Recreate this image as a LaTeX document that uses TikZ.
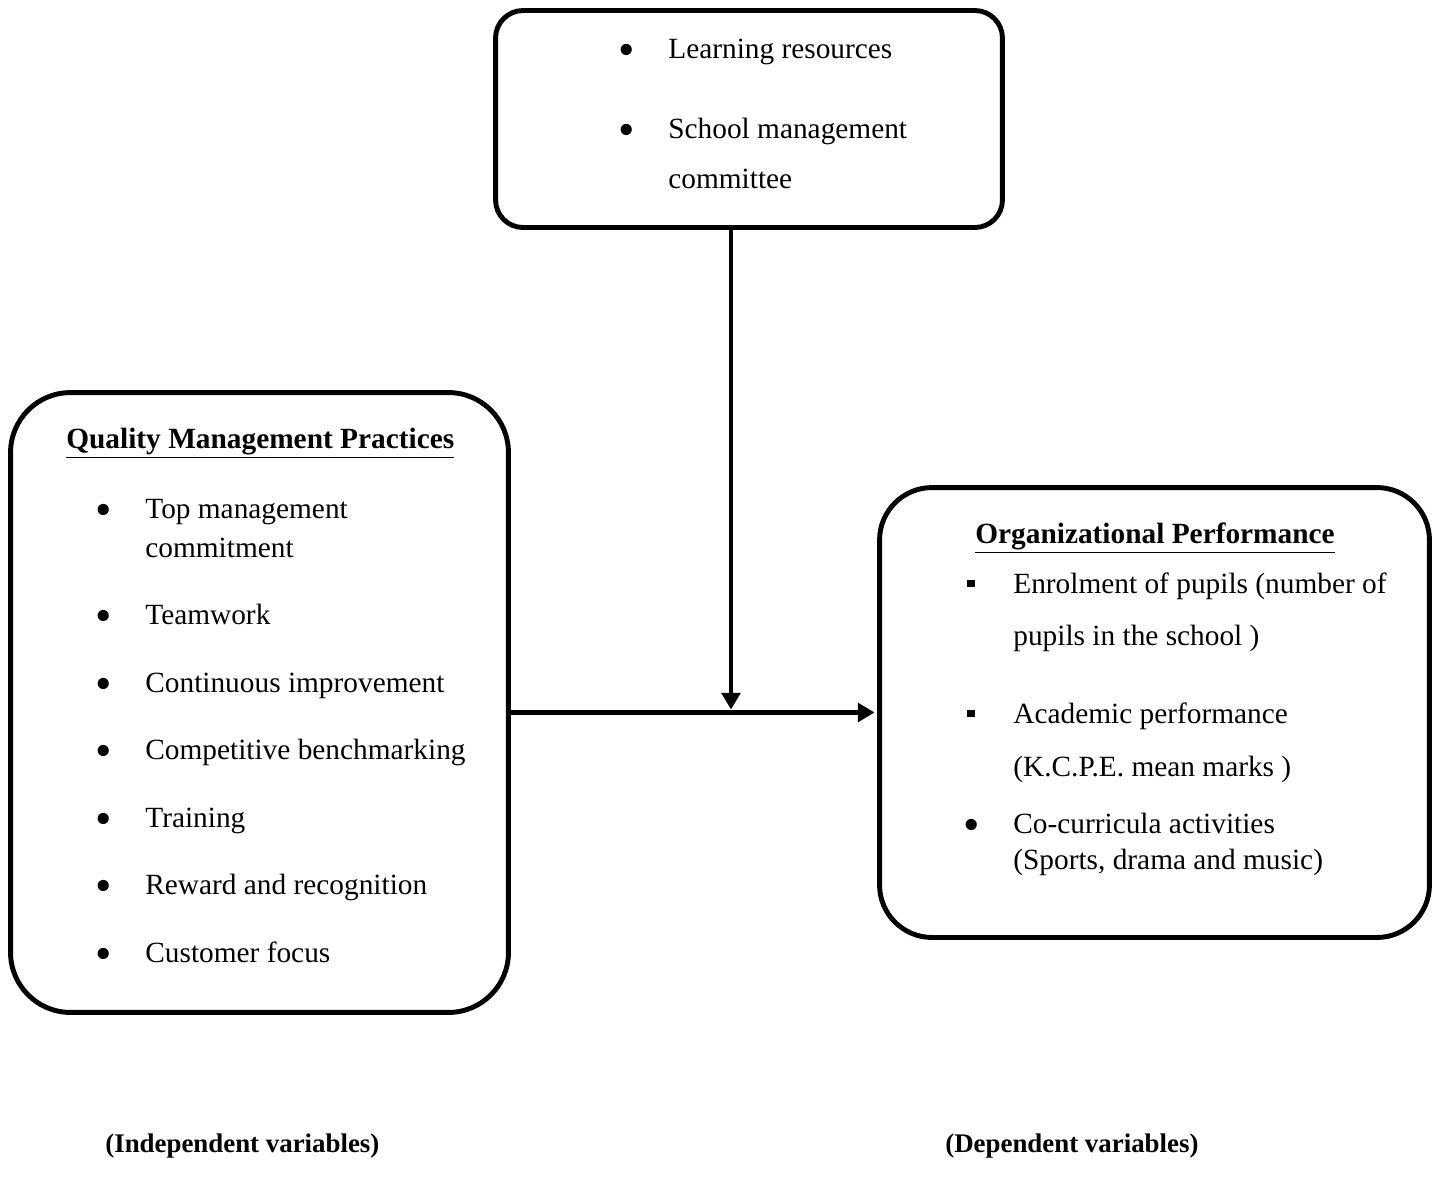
\documentclass[tikz,border=0pt]{standalone}
\usepackage{fontspec}
\usepackage{graphicx}
\setmainfont{Liberation Serif}
\usetikzlibrary{arrows.meta, positioning}

\tikzset{
  framebox/.style={draw, line width=2.8pt},
  lefttext/.style={anchor=base west, inner sep=0pt, font=\fontsize{16.7}{20}\selectfont},
  righttext/.style={anchor=base west, inner sep=0pt, font=\fontsize{16.7}{20}\selectfont},
  link/.style={line width=2.8pt, -{Triangle[width=10.5pt,length=9.5pt]}}
}
\newcommand{\rbul}{\llap{\raisebox{-0.26em}{\scalebox{1.6}{\textbullet}}\hspace{19pt}}}
\newcommand{\sbul}{\llap{\rule[0.2em]{4.2pt}{4.2pt}\hspace{22pt}}}

\begin{document}
\begin{tikzpicture}[x=0.02cm, y=-0.02cm]
  \useasboundingbox (0,0) rectangle (1438,1181);

  % the three boxes
  \node[framebox, rounded corners=0.55cm, minimum width=10.14cm, minimum height=4.34cm] (res) at (749,119) {};
  \node[framebox, rounded corners=1.2cm, minimum width=9.96cm, minimum height=12.4cm] (qmp) at (259.5,702.5) {};
  \node[framebox, rounded corners=1.05cm, minimum width=11cm, minimum height=9cm] (perf) at (1154.5,712.5) {};

  % moderating variables
  \node[lefttext] (res1) at (668,58) {\rbul Learning resources};
  \node[lefttext] (res2) at (668,138) {\rbul School management};
  \node[lefttext] (res2b) at (668,188) {committee};

  % independent variables
  \node[lefttext, font=\fontsize{16.7}{20}\selectfont\bfseries] (qmptitle) at (66,448) {\underline{Quality Management Practices}};
  \foreach \ty/\tx [count=\i] in {518/Top management, 624/Teamwork, 692/Continuous improvement,
      759/Competitive benchmarking, 827/Training, 894/Reward and recognition, 962/Customer focus}
    \node[lefttext] (qmp\i) at (145,\ty) {\rbul\tx};
  \node[lefttext] (qmp1b) at (145,557) {commitment};

  % dependent variables
  \node[lefttext, font=\fontsize{16.7}{20}\selectfont\bfseries] (perftitle) at (975,543) {\underline{Organizational Performance}};
  \node[righttext] (perf1) at (1013,593) {\sbul Enrolment of pupils (number of};
  \node[righttext] (perf1b) at (1013,645) {pupils in the school )};
  \node[righttext] (perf2) at (1013,723) {\sbul Academic performance};
  \node[righttext] (perf2b) at (1013,776) {(K.C.P.E. mean marks )};
  \node[righttext] (perf3) at (1013,833) {\rbul Co-curricula activities};
  \node[righttext] (perf3b) at (1013,869) {(Sports, drama and music)};

  % captions
  \node[lefttext, font=\fontsize{15.3}{18}\selectfont\bfseries] (indep) at (105,1152) {(Independent variables)};
  \node[lefttext, font=\fontsize{15.3}{18}\selectfont\bfseries] (dep) at (945,1152) {(Dependent variables)};

  % connectors
  \coordinate (meet) at (731,712);
  \draw[link, shorten >=1.4pt] (res.south -| meet) -- (meet);
  \draw[link, shorten >=1.4pt] (qmp.east |- perf.west) -- (perf.west);
\end{tikzpicture}
\end{document}
